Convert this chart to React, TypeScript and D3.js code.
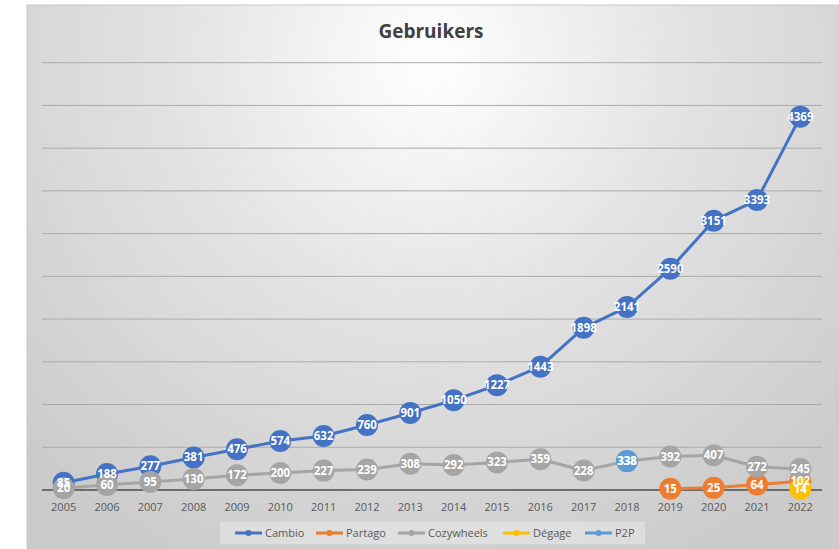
import React from "react";
import * as d3 from "d3";

const years = ["2005","2006","2007","2008","2009","2010","2011","2012","2013","2014","2015","2016","2017","2018","2019","2020","2021","2022"];
const cambio: (number|null)[] = [85,188,277,381,476,574,632,760,901,1050,1227,1443,1898,2141,2590,3151,3393,4369];
const partago: (number|null)[] = [null,null,null,null,null,null,null,null,null,null,null,null,null,null,15,25,64,102];
const cozywheels: (number|null)[] = [20,60,95,130,172,200,227,239,308,292,323,359,228,338,392,407,272,245];
const degage: (number|null)[] = [null,null,null,null,null,null,null,null,null,null,null,null,null,null,null,null,null,14];
const p2p: (number|null)[] = [null,null,null,null,null,null,null,null,null,null,null,null,null,338,null,null,null,null];
const yTicks = [0,500,1000,1500,2000,2500,3000,3500,4000,4500,5000];

const series = [
  { name: "Cambio", values: cambio, color: "#4472C4" },
  { name: "Partago", values: partago, color: "#ED7D31" },
  { name: "Cozywheels", values: cozywheels, color: "#A5A5A5" },
  { name: "Dégage", values: degage, color: "#FFC000" },
  { name: "P2P", values: p2p, color: "#5B9BD5" },
];

const legendX = [235, 316, 398, 503, 585];

export default function App() {
  const W = 839, H = 549;
  const left = 42, right = 822, top = 62.7, bottom = 490;
  const x = d3.scaleBand<string>().domain(years).range([left, right]);
  const cx = (yr: string) => (x(yr) as number) + x.bandwidth() / 2;
  const y = d3.scaleLinear().domain([0, 5000]).range([bottom, top]);
  const font = "'Open Sans', 'Liberation Sans', sans-serif";

  return (
    <svg width={W} height={H} style={{ position: "absolute", left: 0, top: 0, fontFamily: font }}>
      <defs>
        <radialGradient id="bg" gradientUnits="userSpaceOnUse" cx={430} cy={60} r={560}>
          <stop offset="0" stopColor="#ffffff" />
          <stop offset="0.45" stopColor="#e3e3e3" />
          <stop offset="1" stopColor="#cbcbcb" />
        </radialGradient>
      </defs>
      <rect x={0} y={0} width={W} height={H} fill="#ffffff" />
      <rect x={27} y={5} width={W - 27} height={H - 5} fill="url(#bg)" stroke="#c8c8c8" strokeWidth={1} />
      <text x={431} y={38} textAnchor="middle" fontSize={19} fontWeight="bold" fill="#404040">Gebruikers</text>
      {yTicks.filter(t => t > 0).map(t => (
        <line key={t} x1={left} x2={right} y1={y(t)} y2={y(t)} stroke="#ababab" strokeWidth={1} />
      ))}
      <line x1={left} x2={right} y1={y(0)} y2={y(0)} stroke="#4d4d4d" strokeWidth={1.5} />
      {years.map(yr => (
        <text key={yr} x={cx(yr)} y={511} textAnchor="middle" fontSize={11} fill="#595959">{yr}</text>
      ))}
      {series.map(s => {
        const line = d3.line<number|null>()
          .defined(v => v !== null)
          .x((_, i) => cx(years[i]))
          .y(v => y(v as number));
        return (
          <g key={s.name}>
            <path d={line(s.values) || ""} fill="none" stroke={s.color} strokeWidth={3} strokeLinejoin="round" />
            {s.values.map((v, i) => v === null ? null : (
              <circle key={i} cx={cx(years[i])} cy={y(v)} r={11} fill={s.color} />
            ))}
          </g>
        );
      })}
      {series.map(s => (
        <g key={s.name + "l"}>
          {s.values.map((v, i) => v === null ? null : (
            <text key={i} x={cx(years[i])} y={y(v)} dy="0.35em" textAnchor="middle" fontSize={11.5} fontWeight="bold" fill="#ffffff">{v}</text>
          ))}
        </g>
      ))}
      <rect x={220} y={522} width={425} height={22} fill="#ffffff" fillOpacity={0.3} />
      {series.map((s, i) => (
        <g key={s.name + "g"} transform={`translate(${legendX[i]},533)`}>
          <line x1={0} x2={27} y1={0} y2={0} stroke={s.color} strokeWidth={3} />
          <circle cx={13.5} cy={0} r={3} fill={s.color} />
          <text x={30} y={0} dy="0.35em" fontSize={11} fill="#595959">{s.name}</text>
        </g>
      ))}
    </svg>
  );
}
